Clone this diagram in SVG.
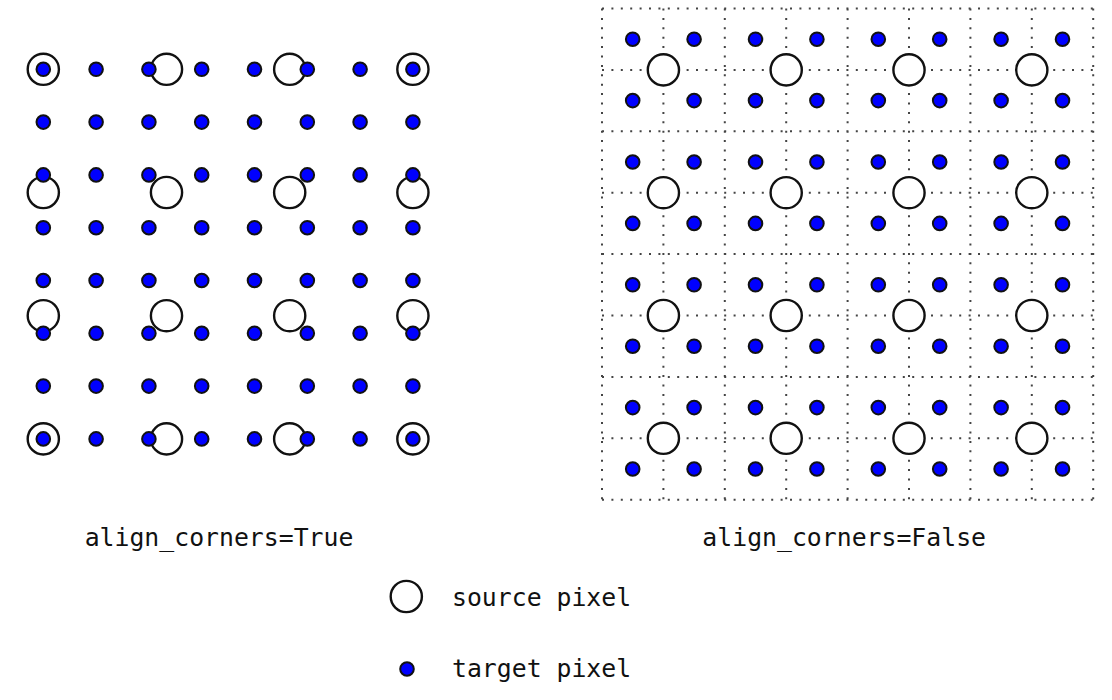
<svg xmlns="http://www.w3.org/2000/svg" xmlns:xlink="http://www.w3.org/1999/xlink" width="1112" height="700" viewBox="0 0 1112 700">
<style>
.src{fill:#fff;stroke:#111;stroke-width:2.4}
.tgt{fill:#0000ff;stroke:#111;stroke-width:2}
.grid{stroke:#444;stroke-width:2;stroke-dasharray:2 7.4;fill:none}
.lbl{font-family:"DejaVu Sans Mono","Liberation Mono",monospace;font-size:24.8px;fill:#111}
</style>
<defs>
<circle id="s" r="15.6" class="src"/>
<circle id="t" r="6.8" class="tgt"/>
</defs>
<rect width="1112" height="700" fill="#fff"/>
<g id="grid-right" class="grid">
<path d="M602 8.5H1093.2M602 69.9H1093.2M602 131.3H1093.2M602 192.7H1093.2M602 254.1H1093.2M602 315.5H1093.2M602 376.9H1093.2M602 438.3H1093.2M602 499.7H1093.2M602 8.5V499.7M663.4 8.5V499.7M724.8 8.5V499.7M786.2 8.5V499.7M847.6 8.5V499.7M909 8.5V499.7M970.4 8.5V499.7M1031.8 8.5V499.7M1093.2 8.5V499.7"/>
</g>
<g id="left-source">
<use href="#s" x="43.3" y="69.3"/><use href="#s" x="166.5" y="69.3"/><use href="#s" x="289.7" y="69.3"/><use href="#s" x="412.9" y="69.3"/>
<use href="#s" x="43.3" y="192.5"/><use href="#s" x="166.5" y="192.5"/><use href="#s" x="289.7" y="192.5"/><use href="#s" x="412.9" y="192.5"/>
<use href="#s" x="43.3" y="315.7"/><use href="#s" x="166.5" y="315.7"/><use href="#s" x="289.7" y="315.7"/><use href="#s" x="412.9" y="315.7"/>
<use href="#s" x="43.3" y="438.9"/><use href="#s" x="166.5" y="438.9"/><use href="#s" x="289.7" y="438.9"/><use href="#s" x="412.9" y="438.9"/>
</g>
<g id="left-target">
<g transform="translate(0,69.3)"><use href="#t" x="43.3"/><use href="#t" x="96.1"/><use href="#t" x="148.9"/><use href="#t" x="201.7"/><use href="#t" x="254.5"/><use href="#t" x="307.3"/><use href="#t" x="360.1"/><use href="#t" x="412.9"/></g>
<g transform="translate(0,122.1)"><use href="#t" x="43.3"/><use href="#t" x="96.1"/><use href="#t" x="148.9"/><use href="#t" x="201.7"/><use href="#t" x="254.5"/><use href="#t" x="307.3"/><use href="#t" x="360.1"/><use href="#t" x="412.9"/></g>
<g transform="translate(0,174.9)"><use href="#t" x="43.3"/><use href="#t" x="96.1"/><use href="#t" x="148.9"/><use href="#t" x="201.7"/><use href="#t" x="254.5"/><use href="#t" x="307.3"/><use href="#t" x="360.1"/><use href="#t" x="412.9"/></g>
<g transform="translate(0,227.7)"><use href="#t" x="43.3"/><use href="#t" x="96.1"/><use href="#t" x="148.9"/><use href="#t" x="201.7"/><use href="#t" x="254.5"/><use href="#t" x="307.3"/><use href="#t" x="360.1"/><use href="#t" x="412.9"/></g>
<g transform="translate(0,280.5)"><use href="#t" x="43.3"/><use href="#t" x="96.1"/><use href="#t" x="148.9"/><use href="#t" x="201.7"/><use href="#t" x="254.5"/><use href="#t" x="307.3"/><use href="#t" x="360.1"/><use href="#t" x="412.9"/></g>
<g transform="translate(0,333.3)"><use href="#t" x="43.3"/><use href="#t" x="96.1"/><use href="#t" x="148.9"/><use href="#t" x="201.7"/><use href="#t" x="254.5"/><use href="#t" x="307.3"/><use href="#t" x="360.1"/><use href="#t" x="412.9"/></g>
<g transform="translate(0,386.1)"><use href="#t" x="43.3"/><use href="#t" x="96.1"/><use href="#t" x="148.9"/><use href="#t" x="201.7"/><use href="#t" x="254.5"/><use href="#t" x="307.3"/><use href="#t" x="360.1"/><use href="#t" x="412.9"/></g>
<g transform="translate(0,438.9)"><use href="#t" x="43.3"/><use href="#t" x="96.1"/><use href="#t" x="148.9"/><use href="#t" x="201.7"/><use href="#t" x="254.5"/><use href="#t" x="307.3"/><use href="#t" x="360.1"/><use href="#t" x="412.9"/></g>
</g>
<g id="right-source">
<use href="#s" x="663.4" y="69.9"/><use href="#s" x="786.2" y="69.9"/><use href="#s" x="909" y="69.9"/><use href="#s" x="1031.8" y="69.9"/>
<use href="#s" x="663.4" y="192.7"/><use href="#s" x="786.2" y="192.7"/><use href="#s" x="909" y="192.7"/><use href="#s" x="1031.8" y="192.7"/>
<use href="#s" x="663.4" y="315.5"/><use href="#s" x="786.2" y="315.5"/><use href="#s" x="909" y="315.5"/><use href="#s" x="1031.8" y="315.5"/>
<use href="#s" x="663.4" y="438.3"/><use href="#s" x="786.2" y="438.3"/><use href="#s" x="909" y="438.3"/><use href="#s" x="1031.8" y="438.3"/>
</g>
<g id="right-target">
<g transform="translate(0,39.2)"><use href="#t" x="632.7"/><use href="#t" x="694.1"/><use href="#t" x="755.5"/><use href="#t" x="816.9"/><use href="#t" x="878.3"/><use href="#t" x="939.7"/><use href="#t" x="1001.1"/><use href="#t" x="1062.5"/></g>
<g transform="translate(0,100.6)"><use href="#t" x="632.7"/><use href="#t" x="694.1"/><use href="#t" x="755.5"/><use href="#t" x="816.9"/><use href="#t" x="878.3"/><use href="#t" x="939.7"/><use href="#t" x="1001.1"/><use href="#t" x="1062.5"/></g>
<g transform="translate(0,162)"><use href="#t" x="632.7"/><use href="#t" x="694.1"/><use href="#t" x="755.5"/><use href="#t" x="816.9"/><use href="#t" x="878.3"/><use href="#t" x="939.7"/><use href="#t" x="1001.1"/><use href="#t" x="1062.5"/></g>
<g transform="translate(0,223.4)"><use href="#t" x="632.7"/><use href="#t" x="694.1"/><use href="#t" x="755.5"/><use href="#t" x="816.9"/><use href="#t" x="878.3"/><use href="#t" x="939.7"/><use href="#t" x="1001.1"/><use href="#t" x="1062.5"/></g>
<g transform="translate(0,284.8)"><use href="#t" x="632.7"/><use href="#t" x="694.1"/><use href="#t" x="755.5"/><use href="#t" x="816.9"/><use href="#t" x="878.3"/><use href="#t" x="939.7"/><use href="#t" x="1001.1"/><use href="#t" x="1062.5"/></g>
<g transform="translate(0,346.2)"><use href="#t" x="632.7"/><use href="#t" x="694.1"/><use href="#t" x="755.5"/><use href="#t" x="816.9"/><use href="#t" x="878.3"/><use href="#t" x="939.7"/><use href="#t" x="1001.1"/><use href="#t" x="1062.5"/></g>
<g transform="translate(0,407.6)"><use href="#t" x="632.7"/><use href="#t" x="694.1"/><use href="#t" x="755.5"/><use href="#t" x="816.9"/><use href="#t" x="878.3"/><use href="#t" x="939.7"/><use href="#t" x="1001.1"/><use href="#t" x="1062.5"/></g>
<g transform="translate(0,469)"><use href="#t" x="632.7"/><use href="#t" x="694.1"/><use href="#t" x="755.5"/><use href="#t" x="816.9"/><use href="#t" x="878.3"/><use href="#t" x="939.7"/><use href="#t" x="1001.1"/><use href="#t" x="1062.5"/></g>
</g>
<g id="labels">
<text class="lbl" x="219" y="546" text-anchor="middle">align_corners=True</text>
<text class="lbl" x="844.2" y="546" text-anchor="middle">align_corners=False</text>
</g>
<g id="legend">
<use href="#s" x="406.3" y="596.5"/>
<text class="lbl" x="452" y="606">source pixel</text>
<use href="#t" x="407" y="669"/>
<text class="lbl" x="452" y="677">target pixel</text>
</g>
</svg>
